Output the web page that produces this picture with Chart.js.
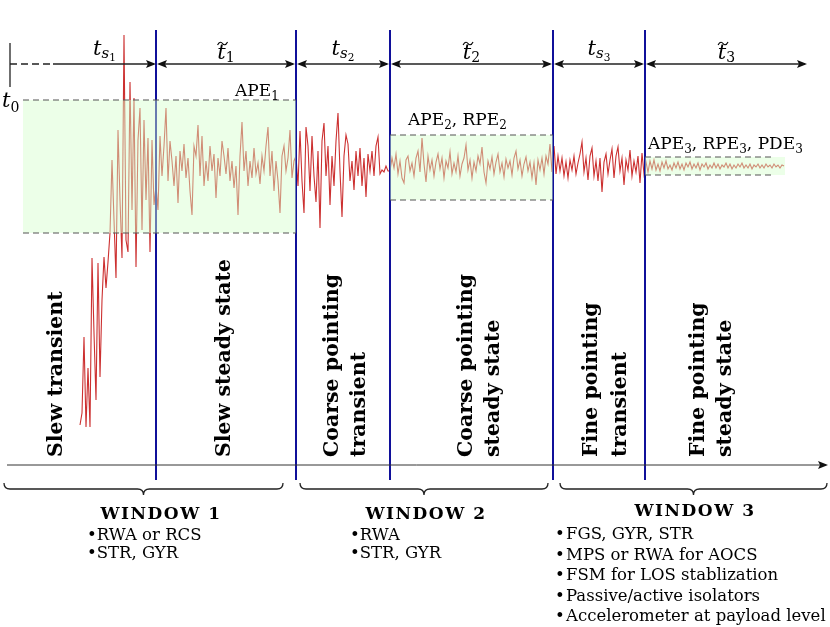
<!DOCTYPE html>
<html>
<head>
<meta charset="utf-8">
<script src="https://cdn.jsdelivr.net/npm/chart.js@4.4.1/dist/chart.umd.min.js"></script>
<style>
  html, body { margin: 0; padding: 0; background: #fff; }
  canvas { display: block; }
</style>
</head>
<body>
<canvas id="chart" width="830" height="627"></canvas>
<script>
// pointing error samples, one array per phase (arbitrary units, + = up)
const sampleStart = 80;
const sampleStep = 2;
const slewTransient = [-259,-247,-171,-261,-202,-261,-92,-167,-234,-97,-211,-134,-91,-122,-96,-67,6,-54,-112,36,
  -34,-92,131,-74,-86,84,-44,68,-101,26,58,-64,46,-34,28,-86,26,-39];
const slewSteady = [-20,-44,30,-10,20,58,-15,25,5,-20, 10,-37,15,-5,22,-12,8,-25,-49,20,
  10,41,-10,30,-20,5,-15,20,-5,12, -32,8,-10,25,10,-8,18,-15,5,-22,
  0,-49,10,44,-5,15,-20,5,-12,18, -8,3,-18,10,-5,20,39,-10,15,-25,
  5,-15,-47,10,20,-5,8,36,-12,5];
const coarseTransient = [10,-20,35,-15,-47,39,20,-25,30,-10, -36,15,-62,25,43,-10,20,-39,10,-20,
  25,53,-5,-51,10,31,22,-15,5,-24, 15,-10,18,-20,8,-31,12,-5,15,-10, 20,29,-8,-4,-6,0,-5];
const coarseSteady = [-5,8,-2,12,-8,5,-12,-17,6,10, -5,3,-10,8,15,-6,28,2,-16,10,
  -4,6,-10,4,12,-3,8,-12,5,-2, 14,-8,3,-6,10,-10,2,8,21,-4,
  6,-12,4,-5,10,2,19,-6,-17,5, -3,9,-8,4,12,-6,3,-11,7,-2,
  5,-9,8,15,-3,6,-10,2,9,-5, 4,-12,3,-19,6,-4,8,-8,10,2, 22,-6];
const fineTransient = [20,-8,10,-5,8,-10,4,-12,6,-4, 10,-8,3,12,24,-6,8,-14,10,18,
  -10,5,-15,8,-26,4,12,-8,6,17, -12,10,19,-5,8,-19,6,-4,16,-10, 5,-6,10,-17,13,-8];
const fineSteady = [4,-6,5,-3,6,-4,2,-5,4,-2, 5,-3,1,-4,3,-2,4,-3,2,-4,
  3,-1,4,-3,2,-2,3,-4,2,-1, 3,-3,1,-2,3,-2,2,-3,1,-1,
  3,-2,2,-3,1,-2,2,-1,3,-2, 1,-2,2,-3,1,-1,2,-2,1,-2, 2,-1,1,-2,2,-1,1,-2,1,0];

// phase boundaries (time) and error bounds [t1, t2, upper, lower]
const phaseEdges = [156, 296, 390, 553, 645];
const arrowEnd = 808;
const errorBands = [[23, 296, 66, -67], [390, 553, 31, -34], [645, 785, 9, -9]];
const bandDashEnd = [296, 553, 773];
const bandLabels = [
  [['APE', '1']],
  [['APE', '2'], [', RPE', '2']],
  [['APE', '3'], [', RPE', '3'], [', PDE', '3']]
];
const durationLabels = [['s', '1'], ['~', '1'], ['s', '2'], ['~', '2'], ['s', '3'], ['~', '3']];
const phaseLabels = [
  ['Slew transient'], ['Slew steady state'], ['Coarse pointing', 'transient'],
  ['Coarse pointing', 'steady state'], ['Fine pointing', 'transient'], ['Fine pointing', 'steady state']
];
const windowTitles = ['WINDOW 1', 'WINDOW 2', 'WINDOW 3'];
const windowItems = [
  ['\u2022RWA or RCS', '\u2022STR, GYR'],
  ['\u2022RWA', '\u2022STR, GYR'],
  ['FGS, GYR, STR', 'MPS or RWA for AOCS', 'FSM for LOS stablization', 'Passive/active isolators', 'Accelerometer at payload level']
];

const errorSeries = [].concat(slewTransient, slewSteady, coarseTransient, coarseSteady, fineTransient, fineSteady);
const points = errorSeries.map((v, i) => ({ x: sampleStart + i * sampleStep, y: v }));

const SERIF = '"DejaVu Serif"';

function runs(ctx, x, y, parts, align) {
  let w = 0;
  parts.forEach(p => { ctx.font = p.font; p.w = ctx.measureText(p.text).width; w += p.w; });
  let cx = align === 'center' ? x - w / 2 : x;
  parts.forEach(p => {
    ctx.font = p.font;
    ctx.fillText(p.text, cx, y + (p.dy || 0));
    p.x = cx;
    cx += p.w;
  });
  return parts;
}

function head(ctx, x, y, dir) {
  ctx.beginPath();
  ctx.moveTo(x, y);
  ctx.lineTo(x - dir * 10, y - 4);
  ctx.lineTo(x - dir * 8, y);
  ctx.lineTo(x - dir * 10, y + 4);
  ctx.closePath();
  ctx.fill();
}

function brace(ctx, x1, x2, y) {
  const mid = (x1 + x2) / 2, r = 6;
  ctx.beginPath();
  ctx.moveTo(x1, y);
  ctx.quadraticCurveTo(x1, y + r, x1 + r, y + r);
  ctx.lineTo(mid - r, y + r);
  ctx.quadraticCurveTo(mid, y + r, mid, y + 2 * r);
  ctx.quadraticCurveTo(mid, y + r, mid + r, y + r);
  ctx.lineTo(x2 - r, y + r);
  ctx.quadraticCurveTo(x2, y + r, x2, y);
  ctx.stroke();
}

const overlay = {
  id: 'overlay',
  afterDatasetsDraw(chart) {
    const ctx = chart.ctx;
    const xs = chart.scales.x, ys = chart.scales.y;
    const px = v => xs.getPixelForValue(v);
    const py = v => ys.getPixelForValue(v);
    ctx.save();

    // phase boundaries
    ctx.strokeStyle = '#10109a';
    ctx.lineWidth = 2;
    phaseEdges.forEach(t => {
      ctx.beginPath(); ctx.moveTo(px(t), 30); ctx.lineTo(px(t), 480); ctx.stroke();
    });

    // error bands
    errorBands.forEach((b, i) => {
      ctx.fillStyle = 'rgba(213,255,204,0.45)';
      ctx.fillRect(px(b[0]), py(b[2]), px(b[1]) - px(b[0]), py(b[3]) - py(b[2]));
      ctx.strokeStyle = '#555';
      ctx.lineWidth = 1.2;
      ctx.setLineDash([6, 4]);
      [b[2], b[3]].forEach(v => {
        ctx.beginPath(); ctx.moveTo(px(b[0]), py(v)); ctx.lineTo(px(bandDashEnd[i]), py(v)); ctx.stroke();
      });
      ctx.setLineDash([]);
    });

    // time axis
    ctx.strokeStyle = '#333';
    ctx.fillStyle = '#111';
    ctx.lineWidth = 1;
    ctx.beginPath(); ctx.moveTo(7, 465); ctx.lineTo(826, 465); ctx.stroke();
    head(ctx, 828, 465, 1);

    // duration arrows
    ctx.strokeStyle = '#222';
    ctx.lineWidth = 1.3;
    ctx.beginPath(); ctx.moveTo(10, 43); ctx.lineTo(10, 87); ctx.stroke();
    ctx.setLineDash([7, 4]);
    ctx.beginPath(); ctx.moveTo(10, 64); ctx.lineTo(53, 64); ctx.stroke();
    ctx.setLineDash([]);
    ctx.beginPath(); ctx.moveTo(53, 64); ctx.lineTo(px(phaseEdges[0]) - 2, 64); ctx.stroke();
    head(ctx, px(phaseEdges[0]), 64, 1);
    const stops = phaseEdges.concat([arrowEnd]);
    for (let i = 0; i < stops.length - 1; i++) {
      const a = px(stops[i]) + 1, b = px(stops[i + 1]) - 1;
      ctx.beginPath(); ctx.moveTo(a + 2, 64); ctx.lineTo(b - 2, 64); ctx.stroke();
      head(ctx, a, 64, -1);
      head(ctx, b, 64, 1);
    }

    ctx.fillStyle = '#000';
    ctx.textBaseline = 'alphabetic';
    // t0
    runs(ctx, 2, 107, [{ text: 't', font: 'italic 21px ' + SERIF }, { text: '0', font: '14px ' + SERIF, dy: 5 }]);
    // duration labels
    const segs = [0].concat(stops);
    durationLabels.forEach((d, i) => {
      const left = i === 0 ? 53 : px(segs[i]);
      const cx = (left + px(segs[i + 1])) / 2;
      if (d[0] === 's') {
        runs(ctx, cx, 55, [
          { text: 't', font: 'italic 21px ' + SERIF },
          { text: 's', font: 'italic 15px ' + SERIF, dy: 3 },
          { text: d[1], font: '10.5px ' + SERIF, dy: 6 }
        ], 'center');
      } else {
        const p = runs(ctx, cx, 59, [
          { text: 't', font: 'italic 21px ' + SERIF },
          { text: d[1], font: '14px ' + SERIF, dy: 3 }
        ], 'center');
        const tx = p[0].x + p[0].w / 2 + 1;
        ctx.lineWidth = 1.1;
        ctx.strokeStyle = '#000';
        ctx.beginPath();
        ctx.moveTo(tx - 5, 45);
        ctx.bezierCurveTo(tx - 3, 41, tx - 1, 42, tx, 43.5);
        ctx.bezierCurveTo(tx + 1, 45, tx + 3, 46, tx + 5, 42);
        ctx.stroke();
      }
    });

    // band labels
    const bandPos = [[235, 96], [408, 125], [648, 149]];
    bandLabels.forEach((lab, i) => {
      const parts = [];
      lab.forEach(l => {
        parts.push({ text: l[0], font: '17px ' + SERIF });
        parts.push({ text: l[1], font: '12px ' + SERIF, dy: 4 });
      });
      runs(ctx, bandPos[i][0], bandPos[i][1], parts);
    });

    // phase names, rotated
    const phaseX = [[62], [230], [338, 365], [472, 499], [597, 626], [704, 731]];
    ctx.font = 'bold 20.5px ' + SERIF;
    ctx.textAlign = 'left';
    phaseLabels.forEach((lines, i) => {
      lines.forEach((s, j) => {
        ctx.save();
        ctx.translate(phaseX[i][j], 457);
        ctx.rotate(-Math.PI / 2);
        ctx.fillText(s, 0, 0);
        ctx.restore();
      });
    });

    // windows
    ctx.strokeStyle = '#222';
    ctx.lineWidth = 1.3;
    const braces = [[4, 283], [300, 548], [560, 827]];
    braces.forEach(b => brace(ctx, b[0], b[1], 483));
    const titleX = [161, 426, 695];
    const titleY = [519, 519, 516];
    ctx.textAlign = 'center';
    ctx.font = 'bold 17px ' + SERIF;
    if ('letterSpacing' in ctx) ctx.letterSpacing = '1.5px';
    windowTitles.forEach((t, i) => ctx.fillText(t, titleX[i], titleY[i]));
    if ('letterSpacing' in ctx) ctx.letterSpacing = '0px';
    ctx.textAlign = 'left';
    ctx.font = '16.5px ' + SERIF;
    const itemX = [87, 350];
    [0, 1].forEach(w => windowItems[w].forEach((s, j) => ctx.fillText(s, itemX[w], 540 + j * 18)));
    windowItems[2].forEach((s, j) => {
      ctx.fillText('\u2022', 555, 539 + j * 20.5);
      ctx.fillText(s, 566, 539 + j * 20.5);
    });

    ctx.restore();
  }
};

new Chart(document.getElementById('chart'), {
  type: 'line',
  data: {
    datasets: [{
      label: 'Pointing error',
      data: points,
      borderColor: 'rgb(204,48,48)',
      borderWidth: 1.1,
      pointRadius: 0,
      tension: 0,
      fill: false
    }]
  },
  options: {
    responsive: false,
    animation: false,
    layout: { padding: 0 },
    scales: {
      x: { type: 'linear', min: 0, max: 830, display: false },
      y: { type: 'linear', min: -461, max: 166, display: false }
    },
    plugins: { legend: { display: false }, tooltip: { enabled: false } }
  },
  plugins: [overlay]
});
</script>
</body>
</html>
